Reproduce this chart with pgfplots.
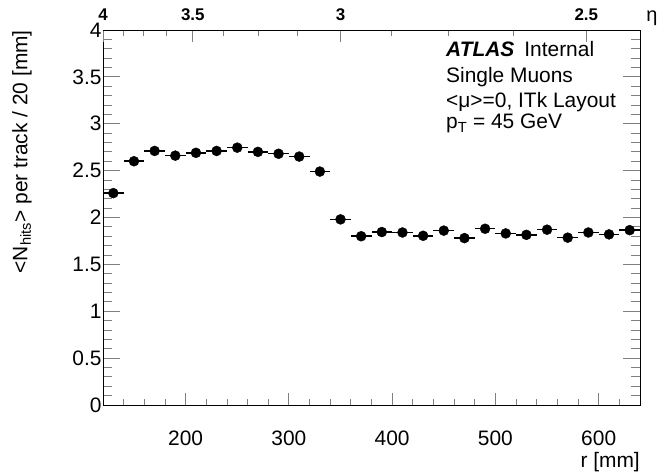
\documentclass[border=0pt]{standalone}
\usepackage{fontspec}
\setmainfont{Liberation Sans}
\usepackage{pgfplots}
\pgfplotsset{compat=1.18}
\begin{document}
\begin{tikzpicture}
\useasboundingbox (-103bp,-67bp) rectangle (554bp,405bp);
\begin{axis}[
  at={(0,0)}, anchor=south west,
  scale only axis, width=537bp, height=375bp,
  xmin=120, xmax=640, ymin=0, ymax=4,
  xtick={200,300,400,500,600}, minor xtick={140,160,...,620},
  ytick={0,0.5,1,1.5,2,2.5,3,3.5,4}, minor ytick={0,0.1,...,4},
  xtick pos=bottom, ytick pos=both,
  tick align=inside,
  xtick style={/pgfplots/major tick length=12bp,/pgfplots/minor tick length=6bp, line width=0.8bp},
  ytick style={/pgfplots/major tick length=17bp,/pgfplots/minor tick length=9bp, line width=0.8bp},
  axis line style={line width=0.9bp},
  /pgf/number format/assume math mode=true,
  ticklabel style={font=\fontsize{21}{21}\selectfont},
  xticklabel style={yshift=-22bp},
  yticklabel style={xshift=2bp},
  yticklabel={\pgfmathprintnumber[fixed]{\tick}},
]
\addplot[only marks, mark=*, mark size=5bp, black,
  error bars/.cd, x dir=both, x explicit,
  error bar style={line width=1.5bp, black}, error mark=none]
  table[x=r, y=n, x error=e] {
r n e
130 2.26 10
150 2.60 10
170 2.71 10
190 2.66 10
210 2.69 10
230 2.71 10
250 2.745 10
270 2.70 10
290 2.68 10
310 2.65 10
330 2.49 10
350 1.98 10
370 1.80 10
390 1.845 10
410 1.84 10
430 1.805 10
450 1.86 10
470 1.78 10
490 1.88 10
510 1.83 10
530 1.815 10
550 1.87 10
570 1.785 10
590 1.84 10
610 1.82 10
630 1.865 10
};
\end{axis}
\begin{axis}[
  at={(0,0)}, anchor=south west,
  scale only axis, width=537bp, height=375bp,
  xmin=120, xmax=640, ymin=0, ymax=4,
  axis x line*=top, hide y axis,
  xtick={120,207,350,588}, xticklabels={4,3.5,3,2.5},
  minor xtick={140,159,181,237,270,308,399,454,517},
  tick align=inside,
  xtick style={/pgfplots/major tick length=12bp,/pgfplots/minor tick length=6bp, line width=0.8bp},
  axis line style={line width=0.9bp},
  /pgf/number format/assume math mode=true,
  xticklabel style={font=\fontsize{17}{17}\selectfont\bfseries, anchor=base, yshift=9bp},
]
\end{axis}
\node[font=\fontsize{20}{20}\selectfont] at (549bp,387bp) {η};
\node[rotate=90, anchor=east, inner sep=0pt, font=\fontsize{21}{21}\selectfont] at (-81bp,375bp) {<N\textsubscript{hits}> per track / 20 [mm]};
\node[anchor=east, inner sep=0pt, font=\fontsize{21}{21}\selectfont] at (537bp,-57bp) {r [mm]};
\begin{scope}[font=\fontsize{21}{21}\selectfont, inner sep=0pt]
\node[anchor=base west] at (343bp,348bp) {\textbf{\textit{ATLAS}}\hspace{10bp}Internal};
\node[anchor=base west] at (343bp,322bp) {Single Muons};
\node[anchor=base west] at (343bp,297bp) {<μ>=0, ITk Layout};
\node[anchor=base west] at (343bp,276bp) {p\textsubscript{T} = 45 GeV};
\end{scope}
\end{tikzpicture}
\end{document}
